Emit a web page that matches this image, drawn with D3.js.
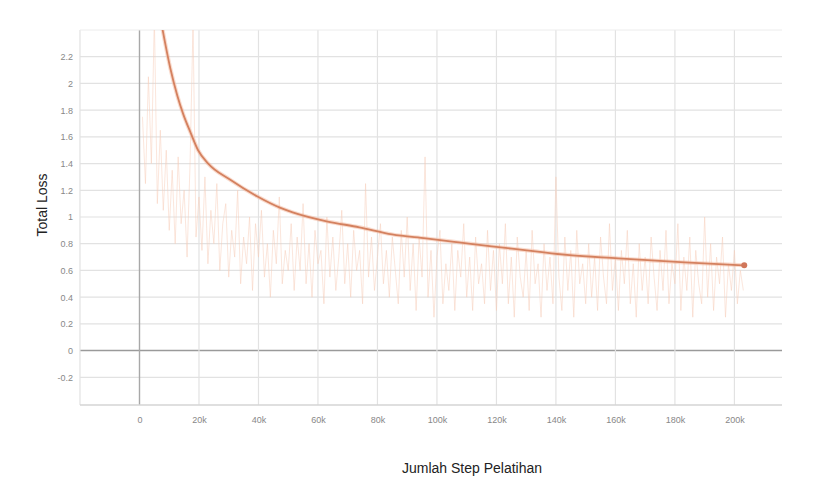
<html>
<head>
<meta charset="utf-8">
<script src="https://d3js.org/d3.v7.min.js"></script>
<style>
body { margin: 0; background: #fff; }
text { font-family: "Liberation Sans Narrow", "Liberation Sans", Arial, sans-serif; }
</style>
</head>
<body>
<svg width="814" height="492"></svg>
<script>
// tick values
var xTicks = [-20000, 0, 20000, 40000, 60000, 80000, 100000, 120000, 140000, 160000, 180000, 200000];
var xLabels = ["0", "20k", "40k", "60k", "80k", "100k", "120k", "140k", "160k", "180k", "200k"];
var yTicks = [-0.2, 0, 0.2, 0.4, 0.6, 0.8, 1, 1.2, 1.4, 1.6, 1.8, 2, 2.2];

// raw loss, one value per 1k steps (1k .. 203k)
var rawLoss = [
  1.75, 1.25, 2.05, 1.40, 2.50, 1.10, 1.65, 1.05, 1.50, 0.90,
  1.35, 0.80, 1.45, 0.95, 1.20, 0.70, 1.40, 2.45, 0.85, 1.15,
  0.75, 1.30, 0.65, 1.05, 0.80, 1.25, 0.60, 0.95, 1.10, 0.55,
  0.90, 0.70, 1.20, 0.50, 0.85, 0.65, 1.00, 0.45, 0.95, 0.70,
  1.05, 0.55, 0.80, 0.40, 0.90, 0.65, 1.15, 0.50, 0.75, 0.60,
  0.95, 0.45, 0.85, 0.60, 1.10, 0.50, 0.80, 0.40, 0.90, 0.65,
  0.75, 0.35, 1.00, 0.55, 0.85, 0.45, 0.70, 1.05, 0.50, 0.80,
  0.40, 0.90, 0.60, 0.75, 0.35, 1.25, 0.55, 0.85, 0.45, 0.70,
  0.95, 0.50, 0.75, 0.40, 0.85, 0.60, 0.35, 0.90, 0.55, 1.00,
  0.45, 0.80, 0.30, 0.85, 0.55, 1.45, 0.40, 0.75, 0.25, 0.70,
  0.90, 0.35, 0.65, 0.45, 0.80, 0.30, 0.75, 0.55, 0.95, 0.40,
  0.70, 0.30, 0.85, 0.50, 0.65, 0.35, 0.90, 0.45, 0.75, 0.30,
  0.80, 0.50, 0.95, 0.35, 0.70, 0.25, 0.85, 0.55, 0.40, 0.75,
  0.30, 0.90, 0.50, 0.65, 0.25, 0.80, 0.45, 0.70, 0.35, 1.30,
  0.55, 0.30, 0.85, 0.45, 0.75, 0.25, 0.90, 0.50, 0.65, 0.35,
  0.80, 0.40, 0.70, 0.30, 0.85, 0.55, 0.35, 0.95, 0.45, 0.70,
  0.30, 0.75, 0.50, 0.90, 0.35, 0.65, 0.25, 0.80, 0.45, 0.70,
  0.35, 0.85, 0.55, 0.30, 0.75, 0.45, 0.90, 0.35, 0.65, 0.50,
  0.95, 0.30, 0.70, 0.45, 0.85, 0.25, 0.75, 0.50, 0.35, 1.00,
  0.40, 0.80, 0.30, 0.70, 0.50, 0.85, 0.25, 0.65, 0.45, 0.75,
  0.35, 0.60, 0.45
];

// smoothed loss
var smoothSteps = [6000, 7700, 10400, 12700, 14700, 17200, 19700, 23100, 30400, 39500, 47200, 51500,
  62900, 73900, 84900, 96300, 107400, 118400, 133100, 138500, 160900, 183300, 203300];
var smoothLoss = [2.62, 2.41, 2.11, 1.91, 1.77, 1.63, 1.50, 1.40, 1.28, 1.155, 1.07, 1.035,
  0.968, 0.923, 0.87, 0.84, 0.81, 0.78, 0.743, 0.728, 0.69, 0.66, 0.638];

var svg = d3.select("svg");
var plotL = 80, plotR = 782, plotT = 30, plotB = 405;

var x = d3.scaleLinear().domain([-20000, 216000]).range([plotL, plotR]);
var y = d3.scaleLinear().domain([-0.4, 2.4]).range([plotB - 1, plotT]);

svg.append("clipPath").attr("id", "clip")
  .append("rect").attr("x", plotL).attr("y", plotT).attr("width", plotR - plotL).attr("height", plotB - plotT);

// grid
var grid = svg.append("g");
grid.selectAll(".hg").data(yTicks).enter().append("line")
  .attr("x1", plotL).attr("x2", plotR)
  .attr("y1", function (d) { return y(d); }).attr("y2", function (d) { return y(d); })
  .attr("stroke", function (d) { return d == 0 ? "#9a9a9a" : "#e2e2e2"; })
  .attr("stroke-width", function (d) { return d == 0 ? 1.6 : 1.2; });
grid.selectAll(".vg").data(xTicks).enter().append("line")
  .attr("y1", plotT).attr("y2", plotB)
  .attr("x1", function (d) { return x(d); }).attr("x2", function (d) { return x(d); })
  .attr("stroke", function (d) { return d == 0 ? "#a8a8a8" : "#e2e2e2"; })
  .attr("stroke-width", function (d) { return d == 0 ? 1.4 : 1.2; });
grid.append("line").attr("x1", plotL).attr("x2", plotR).attr("y1", plotT).attr("y2", plotT)
  .attr("stroke", "#ececec");
grid.append("line").attr("x1", plotL).attr("x2", plotR).attr("y1", plotB).attr("y2", plotB)
  .attr("stroke", "#d4d4d4").attr("stroke-width", 1.5);

// axes labels via d3 axes
var yAxis = svg.append("g").attr("transform", "translate(" + (plotL - 4) + ",0)")
  .call(d3.axisLeft(y).tickValues(yTicks).tickSize(0).tickPadding(3)
    .tickFormat(function (d) { return String(Math.round(d * 10) / 10); }));
var xAxis = svg.append("g").attr("transform", "translate(0," + (plotB + 4) + ")")
  .call(d3.axisBottom(x).tickValues(xTicks.slice(1)).tickSize(0).tickPadding(8)
    .tickFormat(function (d, i) { return xLabels[i]; }));
[yAxis, xAxis].forEach(function (a) {
  a.select(".domain").remove();
  a.selectAll("text").attr("fill", "#888").style("font-size", "9px");
});

// data
var plot = svg.append("g").attr("clip-path", "url(#clip)");
var rawData = rawLoss.map(function (v, i) { return [(i + 1) * 1000, v]; });
plot.append("path").datum(rawData)
  .attr("fill", "none").attr("stroke", "#f8cdb9").attr("stroke-opacity", 0.5).attr("stroke-width", 1)
  .attr("d", d3.line().x(function (d) { return x(d[0]); }).y(function (d) { return y(d[1]); }));

var smoothData = smoothSteps.map(function (s, i) { return [s, smoothLoss[i]]; });
plot.append("path").datum(smoothData)
  .attr("fill", "none").attr("stroke", "#f3b79e").attr("stroke-opacity", 0.5).attr("stroke-width", 4)
  .attr("d", d3.line().curve(d3.curveMonotoneX).x(function (d) { return x(d[0]); }).y(function (d) { return y(d[1]); }));
plot.append("path").datum(smoothData)
  .attr("fill", "none").attr("stroke", "#d4815f").attr("stroke-width", 1.8)
  .attr("d", d3.line().curve(d3.curveMonotoneX).x(function (d) { return x(d[0]); }).y(function (d) { return y(d[1]); }));

var last = smoothData[smoothData.length - 1];
svg.append("circle").attr("cx", x(last[0])).attr("cy", y(last[1])).attr("r", 3)
  .attr("fill", "#d0765a");

// titles
svg.append("text").attr("transform", "translate(47,205) rotate(-90)")
  .attr("text-anchor", "middle").style("font-family", "Liberation Sans, Arial, sans-serif")
  .style("font-size", "14px").attr("fill", "#222").text("Total Loss");
svg.append("text").attr("x", 472).attr("y", 473)
  .attr("text-anchor", "middle").style("font-family", "Liberation Sans, Arial, sans-serif")
  .style("font-size", "14px").attr("fill", "#222").text("Jumlah Step Pelatihan");
</script>
</body>
</html>
